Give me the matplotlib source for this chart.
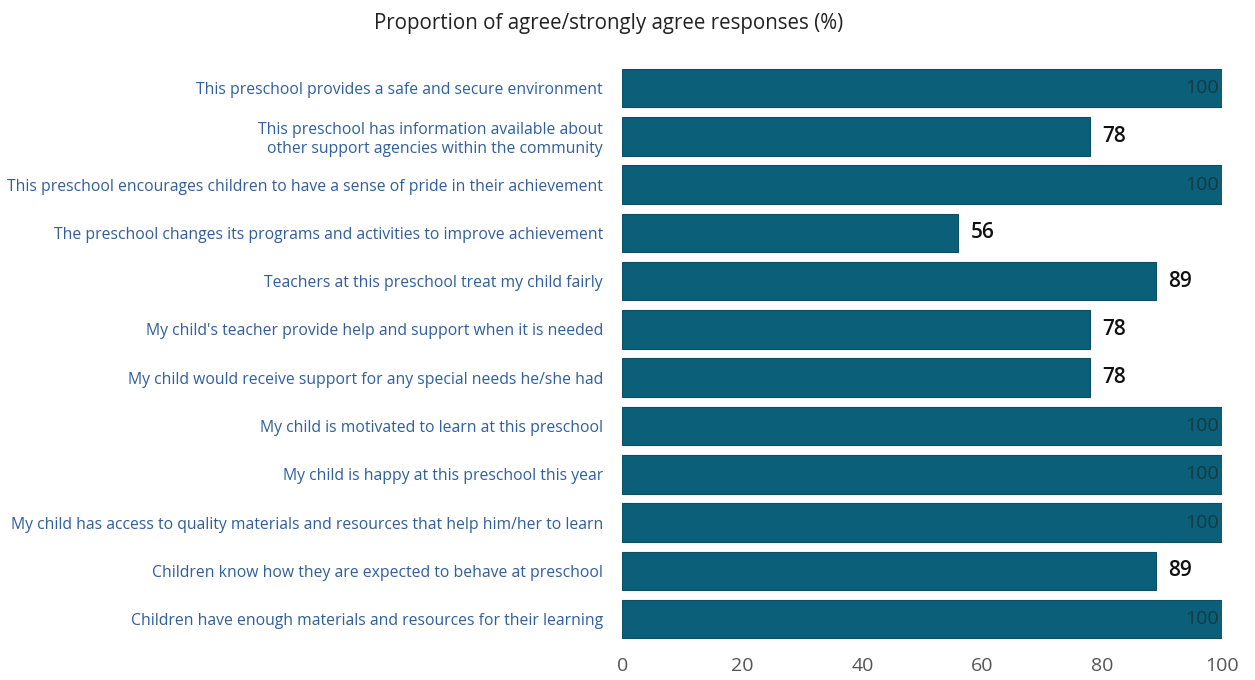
import matplotlib.pyplot as plt

plt.rcParams['font.family'] = ['Open Sans', 'DejaVu Sans']

statements = [
    "This preschool provides a safe and secure environment",
    "This preschool has information available about\nother support agencies within the community",
    "This preschool encourages children to have a sense of pride in their achievement",
    "The preschool changes its programs and activities to improve achievement",
    "Teachers at this preschool treat my child fairly",
    "My child's teacher provide help and support when it is needed",
    "My child would receive support for any special needs he/she had",
    "My child is motivated to learn at this preschool",
    "My child is happy at this preschool this year",
    "My child has access to quality materials and resources that help him/her to learn",
    "Children know how they are expected to behave at preschool",
    "Children have enough materials and resources for their learning",
]
agree_pct = [100, 78, 100, 56, 89, 78, 78, 100, 100, 100, 89, 100]
xticks = [0, 20, 40, 60, 80, 100]

bar_color = "#0b5f78"

fig = plt.figure(figsize=(12.55, 6.8), dpi=100)
ax = fig.add_axes([0.496, 0.054, 0.478, 0.852])

ypos = list(range(len(statements)))
ax.barh(ypos, agree_pct, height=0.8, color=bar_color, edgecolor="#0a4f63", linewidth=0.8)
ax.set_ylim(len(statements) - 0.5, -0.5)
ax.set_xlim(0, 100)

for y, v in zip(ypos, agree_pct):
    if v >= 100:
        ax.text(v - 0.6, y, str(v), ha="right", va="center", fontsize=14, color="#123a44")
    else:
        ax.text(v + 2, y, str(v), ha="left", va="center", fontsize=15,
                color="#111111", fontweight="semibold")

ax.set_yticks(ypos)
ax.set_yticklabels(statements, fontsize=11.3, color="#2f5f9e", ha="right")
ax.tick_params(axis="y", length=0, pad=14)
ax.set_xticks(xticks)
ax.set_xticklabels([str(t) for t in xticks], fontsize=14, color="#555555")
ax.tick_params(axis="x", length=0, pad=10)

for s in ax.spines.values():
    s.set_visible(False)

fig.text(0.485, 0.965, "Proportion of agree/strongly agree responses (%)",
         ha="center", va="center", fontsize=14.8, color="#222222")

fig.savefig("out.png", dpi=100)
